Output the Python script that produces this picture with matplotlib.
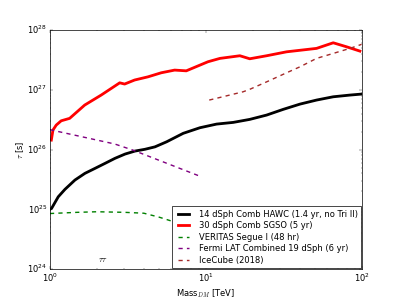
import numpy as np
import matplotlib
matplotlib.use('Agg')
import matplotlib.pyplot as plt

plt.style.use('classic')

# SGSO 30 dSph combined
m_sgso = [1.02, 1.045, 1.097, 1.18, 1.337, 1.67, 2.13, 2.80, 3.01, 3.49, 4.25, 5.17, 6.30, 7.48,
          10.3, 12.3, 16.5, 19.1, 24.5, 32.9, 51.2, 65.5, 79.8, 97.1]
t_sgso = [1.44e26, 2.12e26, 2.57e26, 3.03e26, 3.33e26, 5.56e26, 8.17e26, 1.31e27, 1.25e27, 1.46e27,
          1.65e27, 1.93e27, 2.14e27, 2.08e27, 2.95e27, 3.36e27, 3.72e27, 3.31e27, 3.72e27,
          4.33e27, 4.94e27, 6.13e27, 5.25e27, 4.45e27]

# HAWC 14 dSph combined
m_hawc = [1.0, 1.025, 1.13, 1.248, 1.446, 1.676, 1.943, 2.253, 2.61, 3.03, 3.51, 4.06, 4.71, 5.60,
          7.15, 9.15, 11.7, 14.96, 19.1, 24.5, 31.3, 40.1, 51.2, 65.5, 83.8, 99.5]
t_hawc = [1.0e25, 1.04e25, 1.62e25, 2.16e25, 3.09e25, 4.0e25, 4.84e25, 5.87e25, 7.13e25, 8.41e25,
          9.44e25, 1.01e26, 1.11e26, 1.35e26, 1.87e26, 2.32e26, 2.67e26, 2.85e26, 3.2e26, 3.78e26,
          4.71e26, 5.77e26, 6.74e26, 7.65e26, 8.17e26, 8.49e26]

# VERITAS Segue I
m_ver = [1.0, 1.5, 2.0, 3.0, 4.0, 5.0, 6.2, 8.0, 10.0]
t_ver = [8.5e24, 8.9e24, 9.1e24, 8.9e24, 8.6e24, 7.4e24, 6.2e24, 5.2e24, 4.5e24]

# Fermi LAT 19 dSph
m_fermi = [1.0, 2.6, 3.4, 5.6, 9.1]
t_fermi = [2.15e26, 1.24e26, 9.8e25, 5.9e25, 3.6e25]

# IceCube 2018
m_ice = [10.5, 17.3, 19.1, 24.5, 32.9, 40.1, 51.2, 65.5, 83.8, 99.5]
t_ice = [6.74e26, 9.27e26, 1.02e27, 1.36e27, 1.93e27, 2.43e27, 3.36e27, 4.07e27, 4.94e27, 5.77e27]

fig = plt.figure(figsize=(403/50.4, 304/50.4), dpi=50.4, facecolor='white')
ax = fig.add_axes([0.124, 0.115, 0.774, 0.786])

ax.plot(m_hawc, t_hawc, color='black', lw=4, label='14 dSph Comb HAWC (1.4 yr, no Tri II)')
ax.plot(m_sgso, t_sgso, color='red', lw=4, label='30 dSph Comb SGSO (5 yr)')
ax.plot(m_ver, t_ver, color='green', lw=2, ls='--', label='VERITAS Segue I (48 hr)')
ax.plot(m_fermi, t_fermi, color='purple', lw=2, ls='--', label='Fermi LAT Combined 19 dSph (6 yr)')
ax.plot(m_ice, t_ice, color='brown', lw=2, ls='--', label='IceCube (2018)')

ax.set_xscale('log')
ax.set_yscale('log')
ax.set_xlim(1, 100)
ax.set_ylim(1e24, 1e28)
ax.set_xlabel(r'Mass$_{DM}$ [TeV]', fontsize=12)
ax.set_ylabel(r'$\tau$ [s]', fontsize=12, labelpad=2)
ax.tick_params(labelsize=12)
ax.text(2.03, 1.31e24, r'$\tau\tau$', fontsize=12)

ax.legend(loc='lower right', fontsize=12, labelspacing=0.3, borderaxespad=0.1,
          handlelength=2)

fig.savefig('out.png', dpi=50.4, facecolor='white')
